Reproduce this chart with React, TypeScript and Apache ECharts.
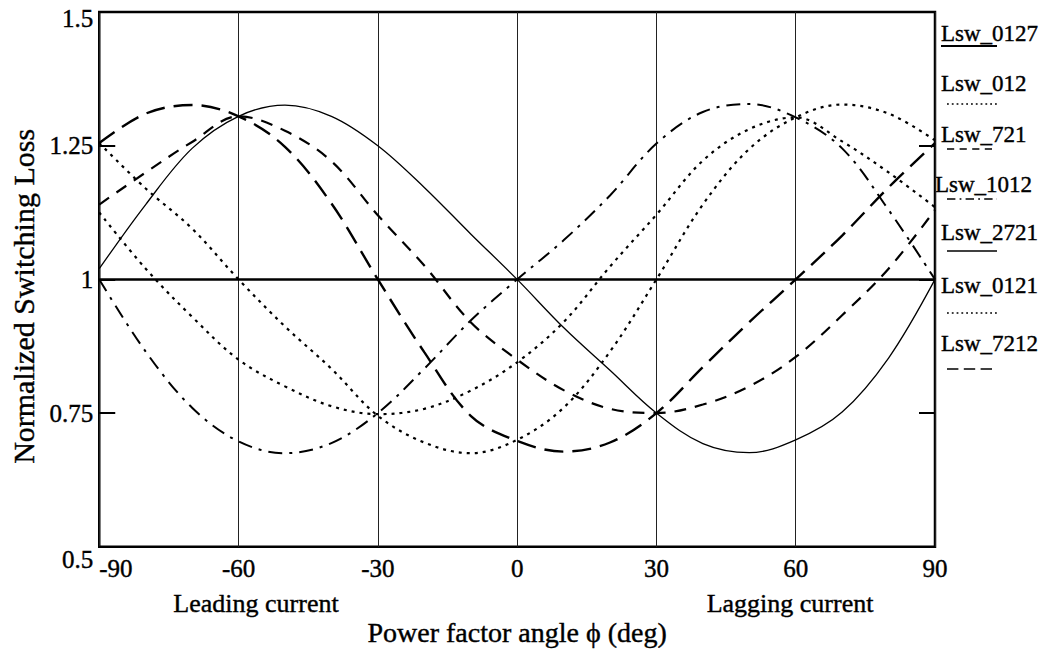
import React, { useEffect, useRef } from "react";
import * as echarts from "echarts";

// Power factor angle (deg)
const angles = [-90, -80, -70, -60, -50, -40, -30, -20, -10, 0, 10, 20, 30, 40, 50, 60, 70, 80, 90];
const xTicks = [-90, -60, -30, 0, 30, 60, 90];
const yTicks = [0.5, 0.75, 1, 1.25, 1.5];

const lsw0127 = [1, 1, 1, 1, 1, 1, 1, 1, 1, 1, 1, 1, 1, 1, 1, 1, 1, 1, 1];
const lsw012 = [1.125, 1.02, 0.93, 0.85, 0.8, 0.763, 0.748, 0.758, 0.792, 0.845, 0.92, 1.024, 1.121, 1.222, 1.281, 1.303, 1.258, 1.2, 1.135];
const lsw721 = [1.14, 1.2, 1.257, 1.305, 1.278, 1.221, 1.12, 1.026, 0.92, 0.85, 0.793, 0.758, 0.75, 0.766, 0.8, 0.855, 0.933, 1.02, 1.13];
const lsw1012 = [1.0, 0.865, 0.76, 0.697, 0.675, 0.694, 0.75, 0.833, 0.923, 1.0, 1.073, 1.157, 1.254, 1.313, 1.328, 1.303, 1.245, 1.13, 1.0];
const lsw2721 = [1.02, 1.14, 1.245, 1.305, 1.326, 1.305, 1.25, 1.172, 1.085, 1.0, 0.91, 0.83, 0.75, 0.693, 0.676, 0.7, 0.752, 0.853, 1.0];
const lsw0121 = [1.255, 1.17, 1.095, 1.0, 0.912, 0.833, 0.745, 0.695, 0.675, 0.7, 0.76, 0.865, 1.0, 1.14, 1.244, 1.303, 1.327, 1.31, 1.26];
const lsw7212 = [1.255, 1.31, 1.326, 1.305, 1.248, 1.142, 1.0, 0.864, 0.745, 0.698, 0.678, 0.695, 0.75, 0.836, 0.92, 1.0, 1.082, 1.172, 1.255];

const seriesNames = ["Lsw_0127", "Lsw_012", "Lsw_721", "Lsw_1012", "Lsw_2721", "Lsw_0121", "Lsw_7212"];
const seriesValues = [lsw0127, lsw012, lsw721, lsw1012, lsw2721, lsw0121, lsw7212];

const FONT = "'Liberation Serif', 'Times New Roman', serif";

const styles: any[] = [
  { width: 2.5, type: "solid" },
  { width: 2.2, type: [3, 5] },
  { width: 2.2, type: [12, 9] },
  { width: 2, type: [14, 7, 3, 7] },
  { width: 1.3, type: "solid" },
  { width: 2.2, type: [3, 5] },
  { width: 2.4, type: [19, 9] },
];

// legend layout
const legendTextY = [33, 83, 134, 184, 232, 285, 343];
const legendLineY = [46, 104, 149, 199, 251, 313, 369];

export default function App() {
  const ref = useRef<HTMLDivElement>(null);
  useEffect(() => {
    if (!ref.current) return;
    const chart = echarts.init(ref.current, undefined, { renderer: "svg" });

    const series = seriesNames.map((name, i) => ({
      name,
      type: "line",
      data: angles.map((a, j) => [a, seriesValues[i][j]]),
      showSymbol: false,
      smooth: i === 0 ? false : 0.35,
      lineStyle: { color: "#000", width: styles[i].width, type: styles[i].type },
      z: i === 0 ? 3 : 2,
    }));

    const heavy = { stroke: "#000", lineWidth: 0.4 };
    const graphic: any[] = [];
    seriesNames.forEach((name, i) => {
      graphic.push({
        type: "text",
        x: i === 3 ? 935 : 941,
        y: legendTextY[i],
        style: { text: name, font: `23px ${FONT}`, fill: "#000", verticalAlign: "middle", ...heavy },
      });
      graphic.push({
        type: "line",
        shape: { x1: i === 0 ? 941 : 947, y1: legendLineY[i], x2: 997, y2: legendLineY[i] },
        style: {
          stroke: "#000",
          lineWidth: i === 0 ? 2 : 1.6,
          lineDash: typeof styles[i].type === "string" ? null : styles[i].type.map((v: number) => v * 0.6),
        },
      });
    });
    graphic.push({
      type: "text",
      x: 256,
      y: 603,
      style: { text: "Leading current", font: `26px ${FONT}`, fill: "#000", align: "center", verticalAlign: "middle", ...heavy },
    });
    graphic.push({
      type: "text",
      x: 790,
      y: 603,
      style: { text: "Lagging current", font: `26px ${FONT}`, fill: "#000", align: "center", verticalAlign: "middle", ...heavy },
    });

    const labelFont = { fontSize: 25, fontFamily: FONT, color: "#000", textBorderColor: "#000", textBorderWidth: 0.4 };

    chart.setOption({
      animation: false,
      backgroundColor: "#fff",
      grid: { left: 99, right: 110, top: 12, bottom: 100, show: true, borderColor: "#000", borderWidth: 2.5, containLabel: false },
      xAxis: {
        type: "value",
        min: xTicks[0],
        max: xTicks[xTicks.length - 1],
        interval: 30,
        axisLine: { show: false, onZero: false },
        axisTick: { show: false },
        splitLine: { show: true, lineStyle: { color: "#222", width: 1 } },
        axisLabel: {
          ...labelFont,
          margin: 9,
          alignMinLabel: "left",
          formatter: (v: number) => (xTicks.includes(v) ? String(v) : ""),
        },
        name: "Power factor angle ϕ (deg)",
        nameLocation: "middle",
        nameGap: 72,
        nameTextStyle: { ...labelFont, fontSize: 28 },
      },
      yAxis: [
        {
          type: "value",
          min: yTicks[0],
          max: yTicks[yTicks.length - 1],
          interval: 0.25,
          axisLine: { show: false, onZero: false },
          axisTick: { show: true, inside: true, length: 16, lineStyle: { color: "#000", width: 2 } },
          splitLine: { show: false },
          axisLabel: {
            ...labelFont,
            margin: 6,
            formatter: (v: number) => (v === 1.5 ? "{mx|1.5}" : v === 0.5 ? "{mn|0.5}" : String(v)),
            rich: {
              mx: { ...labelFont, padding: [12, 0, 0, 0] },
              mn: { ...labelFont, padding: [26, 0, 0, 0] },
            },
          },
          name: "Normalized Switching Loss",
          nameLocation: "middle",
          nameGap: 59,
          nameTextStyle: { ...labelFont, fontSize: 30, padding: [0, 34, 0, 0] },
        },
        {
          type: "value",
          position: "right",
          min: yTicks[0],
          max: yTicks[yTicks.length - 1],
          interval: 0.25,
          axisLine: { show: false, onZero: false },
          axisTick: { show: true, inside: true, length: 16, lineStyle: { color: "#000", width: 2 } },
          splitLine: { show: false },
          axisLabel: { show: false },
        },
      ],
      series,
      graphic,
    });
    return () => chart.dispose();
  }, []);
  return <div ref={ref} style={{ position: "absolute", left: 0, top: 0, width: 1045, height: 652 }} />;
}
